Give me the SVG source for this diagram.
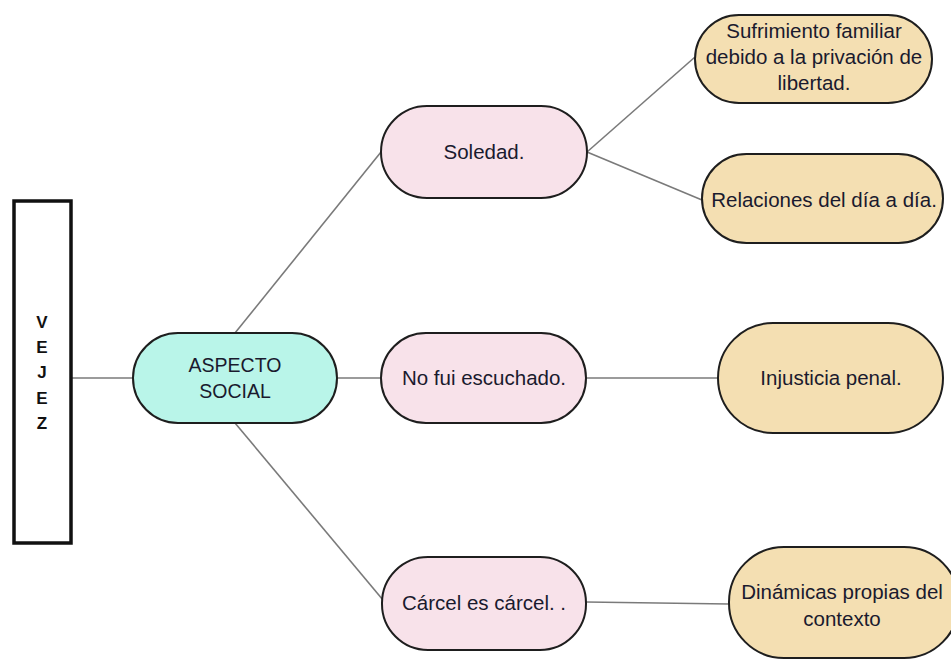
<svg xmlns="http://www.w3.org/2000/svg" width="951" height="661" viewBox="0 0 951 661">
<style>
.pill{stroke:#1e1e1e;stroke-width:2}
.pink{fill:#f8e2ea}
.tan{fill:#f4dfb2}
.cyan{fill:#b9f5e9}
.t{font-family:"Liberation Sans",Arial,sans-serif;font-size:20.5px;fill:#1a1a2e;text-anchor:middle}
.a{font-size:19.5px}
.v{font-family:"Liberation Sans",Arial,sans-serif;font-size:17px;font-weight:bold;fill:#111;text-anchor:middle}
.c{stroke:#7a7a7a;stroke-width:1.6;fill:none}
</style>
<rect width="951" height="661" fill="#fff"/>
<g id="connectors">
<line class="c" x1="71" y1="378" x2="133" y2="378"/>
<line class="c" x1="235" y1="333" x2="381" y2="152"/>
<line class="c" x1="337" y1="378" x2="381" y2="378"/>
<line class="c" x1="235" y1="423" x2="383" y2="600"/>
<line class="c" x1="587" y1="152" x2="695" y2="57"/>
<line class="c" x1="587" y1="152" x2="702" y2="200"/>
<line class="c" x1="586" y1="378" x2="718" y2="378"/>
<line class="c" x1="586" y1="602" x2="729" y2="604"/>
</g>
<g id="vejez">
<rect x="14" y="201" width="57" height="342" fill="#fff" stroke="#111" stroke-width="3.5"/>
<text class="v" x="42" y="328">V</text>
<text class="v" x="42" y="353">E</text>
<text class="v" x="42" y="378">J</text>
<text class="v" x="42" y="404">E</text>
<text class="v" x="42" y="429">Z</text>
</g>
<g id="aspecto">
<rect class="pill cyan" x="133" y="333" width="204" height="90" rx="45"/>
<text class="t a" x="235" y="372">ASPECTO</text>
<text class="t a" x="235" y="398">SOCIAL</text>
</g>
<g id="soledad">
<rect class="pill pink" x="381" y="106" width="206" height="92" rx="46"/>
<text class="t" x="484" y="159">Soledad.</text>
</g>
<g id="nofui">
<rect class="pill pink" x="381" y="333" width="205" height="90" rx="45"/>
<text class="t" x="484" y="385">No fui escuchado.</text>
</g>
<g id="carcel">
<rect class="pill pink" x="382" y="557" width="204" height="93" rx="46"/>
<text class="t" x="484" y="610">Cárcel es cárcel. .</text>
</g>
<g id="sufrimiento">
<rect class="pill tan" x="695" y="15" width="237" height="88" rx="44"/>
<text class="t" x="814" y="38">Sufrimiento familiar</text>
<text class="t" x="814" y="64">debido a la privación de</text>
<text class="t" x="814" y="90">libertad.</text>
</g>
<g id="relaciones">
<rect class="pill tan" x="702" y="154" width="241" height="89" rx="44.5"/>
<text class="t" x="824" y="207">Relaciones del día a día.</text>
</g>
<g id="injusticia">
<rect class="pill tan" x="718" y="323" width="225" height="110" rx="55"/>
<text class="t" x="831" y="385">Injusticia penal.</text>
</g>
<g id="dinamicas">
<rect class="pill tan" x="729" y="547" width="230" height="111" rx="55"/>
<text class="t" x="842" y="599">Dinámicas propias del</text>
<text class="t" x="842" y="626">contexto</text>
</g>
</svg>
